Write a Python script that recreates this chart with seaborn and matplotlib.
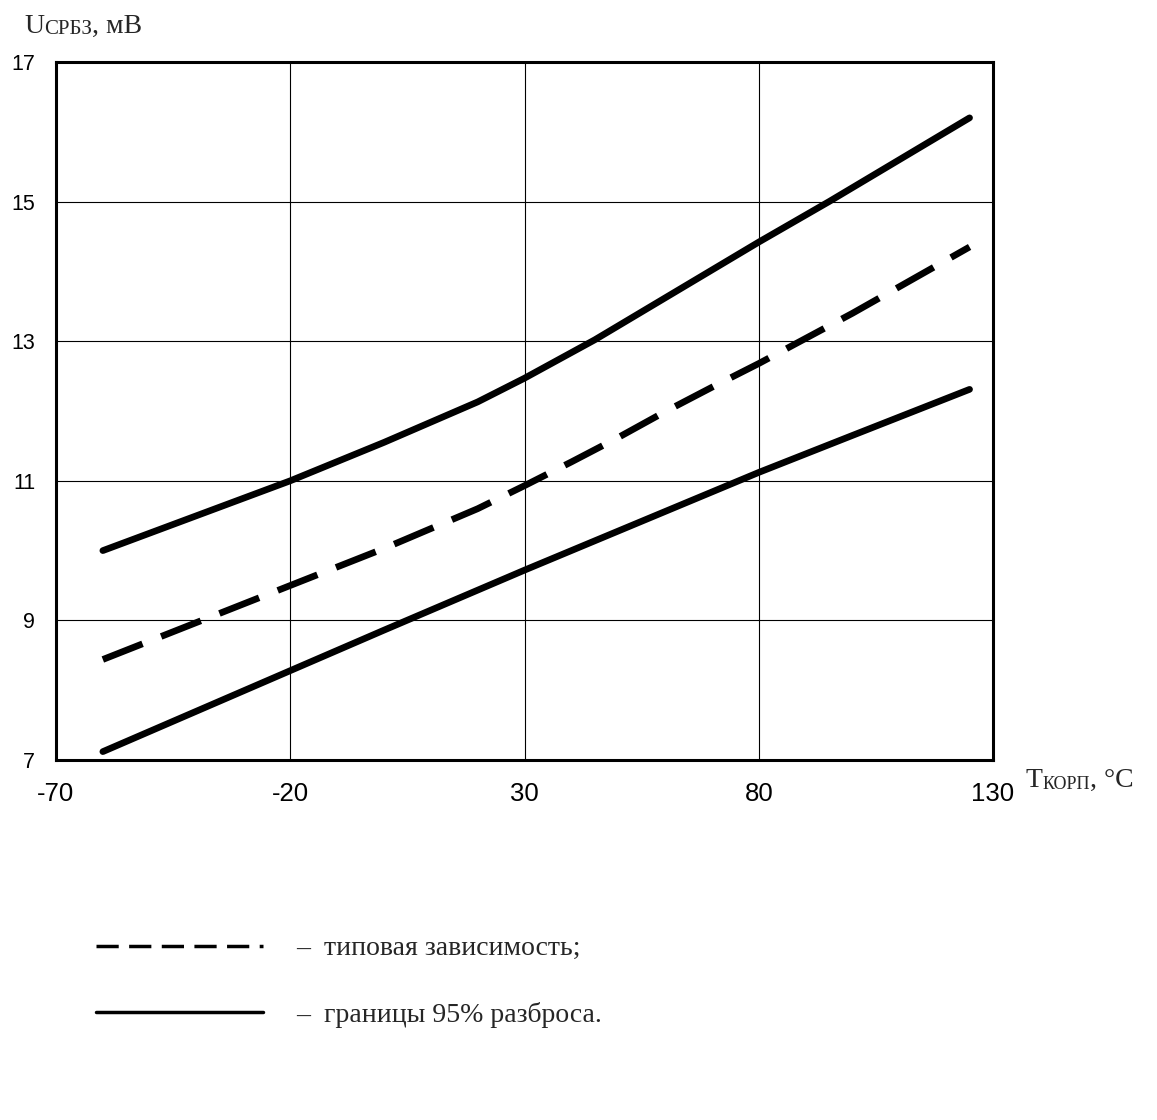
import pandas as pd
import matplotlib.pyplot as plt
import seaborn as sns

# --------------------------------------------------
# Data
# --------------------------------------------------
temp_upper = [-60, -40, -20, 0, 20, 30, 45, 60, 80, 95, 110, 125]
u_upper = [10.0, 10.5, 11.0, 11.55, 12.13, 12.47, 13.02, 13.62, 14.42, 15.0, 15.6, 16.2]

temp_typ = [-60, -40, -20, 0, 20, 30, 40, 50, 60, 70, 80, 100, 125]
u_typ = [8.44, 8.97, 9.5, 10.03, 10.6, 10.93, 11.27, 11.62, 11.99, 12.34, 12.68, 13.4, 14.35]

temp_lower = [-60, -40, -20, 0, 30, 55, 80, 100, 125]
u_lower = [7.12, 7.7, 8.28, 8.86, 9.72, 10.42, 11.12, 11.65, 12.31]

label_typ = "–  типовая зависимость;"
label_bounds = "–  границы 95% разброса."

x_ticks = [-70, -20, 30, 80, 130]
y_ticks = [7, 9, 11, 13, 15, 17]

frames = [
    pd.DataFrame({"t": temp_upper, "u": u_upper, "kind": label_bounds, "curve": "upper"}),
    pd.DataFrame({"t": temp_typ, "u": u_typ, "kind": label_typ, "curve": "typ"}),
    pd.DataFrame({"t": temp_lower, "u": u_lower, "kind": label_bounds, "curve": "lower"}),
]
df = pd.concat(frames, ignore_index=True)

# --------------------------------------------------
# Plot
# --------------------------------------------------
sns.set_style("white")
plt.rcParams["font.family"] = ["Liberation Sans", "DejaVu Sans"]
plt.rcParams["axes.unicode_minus"] = False

fig = plt.figure(figsize=(11.57, 11.2), dpi=100)
ax = fig.add_axes([56 / 1157, 1 - 760 / 1120, 937 / 1157, 698 / 1120])

sns.lineplot(
    data=df, x="t", y="u", style="kind", units="curve", estimator=None,
    style_order=[label_typ, label_bounds],
    dashes={label_typ: (6.4, 3.0), label_bounds: ""},
    color="black", linewidth=4.8, ax=ax, sort=False,
)

ax.set_xlim(-70, 130)
ax.set_ylim(7, 17)
ax.set_xticks(x_ticks)
ax.set_yticks(y_ticks)
ax.tick_params(axis="both", length=5, width=1, direction="out",
               color="black", labelcolor="black")
ax.tick_params(axis="x", labelsize=18.5, pad=11)
ax.tick_params(axis="y", labelsize=15.5, pad=10)
ax.grid(True, color="black", linewidth=0.8)
for s in ax.spines.values():
    s.set_color("black")
    s.set_linewidth(2.2)
ax.set_xlabel("")
ax.set_ylabel("")

# axis titles with small-caps style subscripts
serif = ["Liberation Serif", "DejaVu Serif"]
t1 = fig.text(24 / 1157, 1 - 39 / 1120, "U", fontsize=20, family=serif, va="bottom")
t2 = ax.annotate("СРБЗ", xy=(1, 0), xycoords=t1, fontsize=15, family=serif, va="bottom")
ax.annotate(", мВ", xy=(1, 0), xycoords=t2, fontsize=20, family=serif, va="bottom")

t3 = fig.text(1026 / 1157, 1 - 793 / 1120, "T", fontsize=20, family=serif, va="bottom")
t4 = ax.annotate("КОРП", xy=(1, 0), xycoords=t3, fontsize=13, family=serif, va="bottom")
ax.annotate(", °C", xy=(1, 0), xycoords=t4, fontsize=20, family=serif, va="bottom")

# legend below the chart
leg = ax.legend(
    loc="upper left", bbox_to_anchor=(82 / 1157, 1 - 922 / 1120),
    bbox_transform=fig.transFigure, frameon=False, title=None,
    prop={"family": serif, "size": 20}, handlelength=6.0,
    handletextpad=1.2, labelspacing=1.45, borderpad=0,
)
for line in leg.get_lines():
    line.set_linewidth(2.5)

fig.savefig("out.png", dpi=100, facecolor="white")
plt.close(fig)
